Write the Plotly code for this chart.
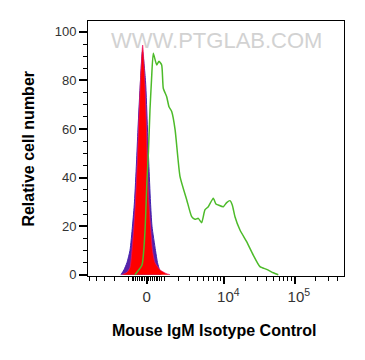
import numpy as np
import plotly.graph_objects as go

# ---- data (fluorescence intensity, relative cell number) ----
green_x = [-630, -248, -89, 16, 95, 174, 253, 350, 535, 664, 820, 915, 1127, 1277, 1464, 1714,
           2117, 2757, 3304, 3718, 4180, 4693, 5256, 5888, 6965, 7622, 8230, 9713, 10858, 12106,
           13052, 14259, 16801, 20888, 25920, 32244, 40131, 49777, 58600]
green_y = [0, 4, 18, 39, 51, 68, 80, 91.2, 86.4, 87.9, 86.4, 76.8, 73.3, 69.2, 67.2, 59.8,
           40.4, 30.8, 23.9, 22.8, 23.2, 21.4, 26.7, 28.0, 31.5, 29.1, 28.7, 28.0, 29.7, 30.5,
           28.7, 23.9, 18.4, 13.6, 8.1, 3.3, 2.2, 0.8, 0]

red_x = [-1442, -1107, -921, -802, -686, -601, -502, -436, -328, -211, -100, -10, 31, 110, 200,
         306, 441, 721, 1082, 1347]
red_y = [0, 1, 3, 10, 20, 30, 46, 60, 80, 94.6, 80, 60, 46, 30, 20, 10, 5, 2, 0.5, 0]

blue_x = [-1514, -1305, -1107, -921, -773, -658, -546, -463, -328, -221, -63, 42, 110, 200, 280,
          469, 579, 692, 779]
blue_y = [0, 2, 5, 10, 20, 30, 46, 60, 80, 92, 80, 60, 46, 30, 20, 10, 5, 2, 0]

x_major_vals = [0, 1e4, 1e5]
x_major_text = ["0", "&nbsp;&nbsp;10<sup>4</sup>", "&nbsp;&nbsp;10<sup>5</sup>"]
y_tick_vals = [0, 20, 40, 60, 80, 100]

# ---- biexponential-like display transform ----
W = 1613.0
def T(v):
    return np.arcsinh(np.asarray(v, dtype=float) / W) / np.log(10)

x_minor = ([-v for v in range(100, 900, 100)] + list(range(100, 900, 100)) +
           [-1000, -2000, -3000, -4000, -5000] + list(range(1000, 10000, 1000)) +
           list(range(20000, 100000, 10000)) + list(range(200000, 600000, 100000)))

fig = go.Figure()
fig.add_trace(go.Scatter(x=T(blue_x), y=blue_y, mode="lines", fill="tozeroy",
                         fillcolor="#5A22A6", line=dict(color="#4020B0", width=1, shape="spline", smoothing=0.6),
                         hoverinfo="skip", showlegend=False))
fig.add_trace(go.Scatter(x=T(red_x), y=red_y, mode="lines", fill="tozeroy",
                         fillcolor="#FF0000", line=dict(color="rgba(235,20,110,0.7)", width=1, shape="spline", smoothing=0.6),
                         hoverinfo="skip", showlegend=False))
fig.add_trace(go.Scatter(x=T(green_x), y=green_y, mode="lines",
                         line=dict(color="#4DBB2A", width=1.5, shape="spline", smoothing=0.5),
                         hoverinfo="skip", showlegend=False))

fig.update_layout(
    width=365, height=360,
    margin=dict(l=88, r=21, t=21, b=84),
    paper_bgcolor="white", plot_bgcolor="white",
    font=dict(family="Liberation Sans, Arial, sans-serif", color="#222222"),
    xaxis=dict(range=[-0.830, 2.791], showgrid=False, zeroline=False,
               showline=True, linecolor="black", linewidth=1, mirror=True,
               tickmode="array", tickvals=T(x_major_vals).tolist(), ticktext=x_major_text,
               ticks="outside", ticklen=7, tickwidth=2, tickcolor="black",
               tickfont=dict(size=15, color="#333333"),
               minor=dict(tickvals=T(x_minor).tolist(), ticks="outside", ticklen=4,
                          tickwidth=1, tickcolor="black", showgrid=False)),
    yaxis=dict(range=[-0.54, 104.5], showgrid=False, zeroline=False,
               showline=True, linecolor="black", linewidth=1, mirror=True,
               tickmode="array", tickvals=y_tick_vals,
               ticks="outside", ticklen=8, tickwidth=2, tickcolor="black",
               tickfont=dict(size=13, color="#333333"),
               minor=dict(dtick=5, ticks="outside", ticklen=4, tickwidth=1,
                          tickcolor="black", showgrid=False)),
    annotations=[
        dict(text="WWW.PTGLAB.COM", xref="paper", yref="paper", x=0.5, y=0.925,
             showarrow=False, xanchor="center", yanchor="middle",
             font=dict(size=22, color="#d2d2d2")),
        dict(text="<b>Relative cell number</b>", xref="paper", yref="paper",
             x=-0.234, y=0.50, textangle=-90, showarrow=False,
             xanchor="center", yanchor="middle", font=dict(size=16, color="black")),
        dict(text="<b>Mouse IgM Isotype Control</b>", xref="paper", yref="paper",
             x=0.492, y=-0.212, showarrow=False, xanchor="center", yanchor="middle",
             font=dict(size=16, color="black")),
    ],
)

fig.write_html("out.html", config={"displayModeBar": False},
               post_script="document.body.style.margin='0';document.body.style.padding='0';")
